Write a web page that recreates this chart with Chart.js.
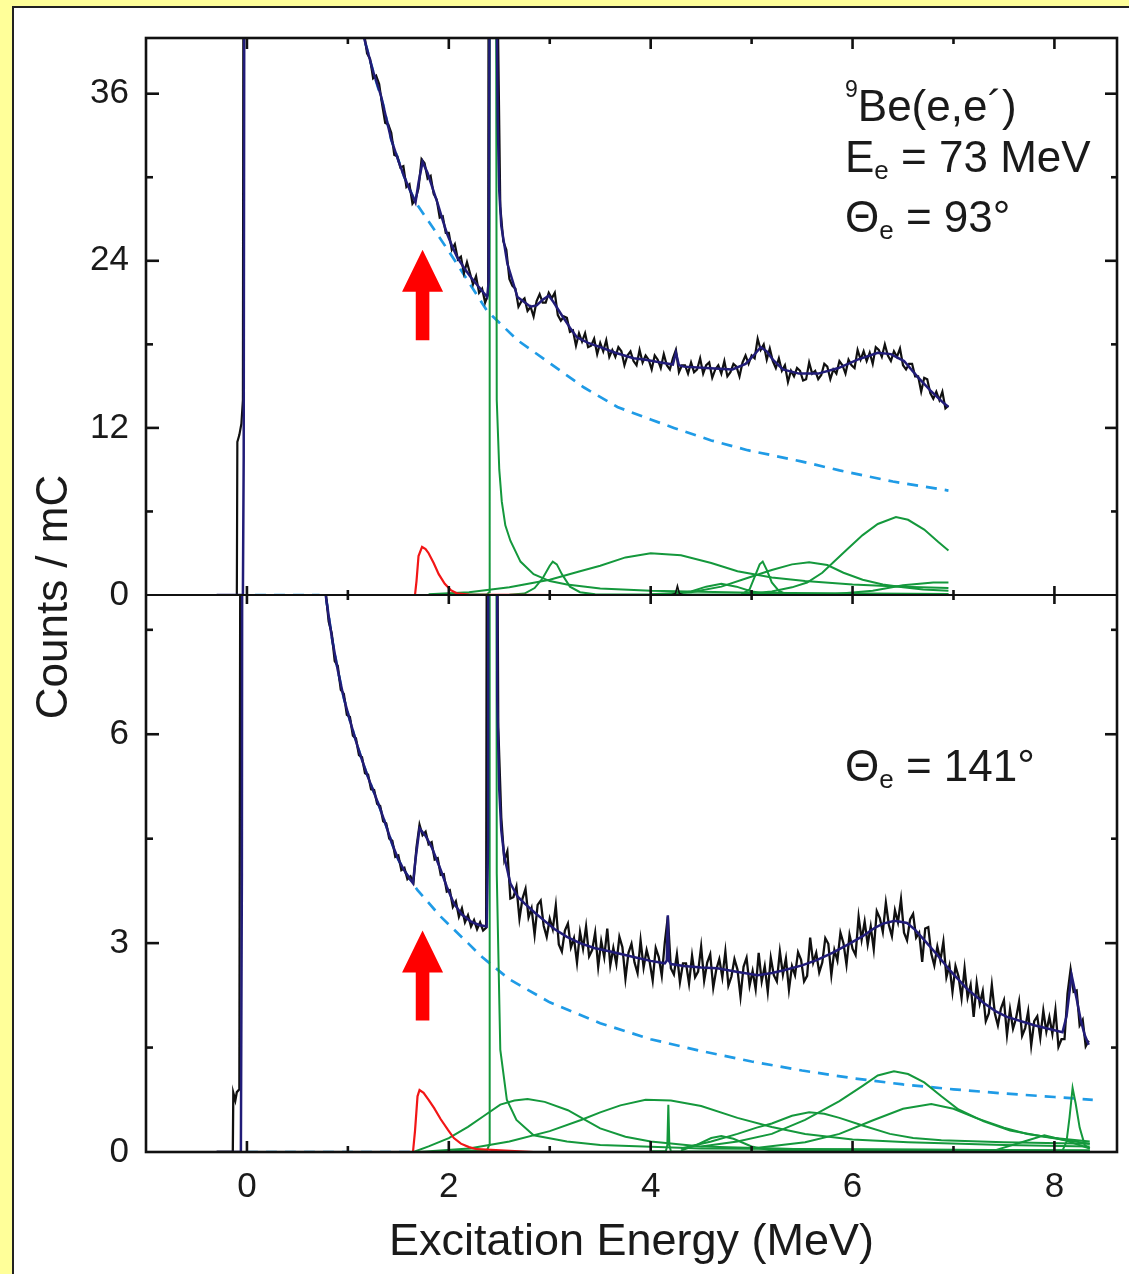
<!DOCTYPE html>
<html><head><meta charset="utf-8">
<script src="https://cdn.jsdelivr.net/npm/chart.js@4.4.1/dist/chart.umd.min.js"></script>
<style>
html,body{margin:0;padding:0;}
body{width:1129px;height:1274px;background:#ffff99;position:relative;overflow:hidden;font-family:"Liberation Sans",Arial,Helvetica,sans-serif;color:#1a1a1a;}
#sheet{position:absolute;left:12px;top:6px;width:1300px;height:1400px;background:#fff;border:2px solid #222;}
#c{position:absolute;left:0;top:0;}
.note{position:absolute;left:845px;font-size:44px;line-height:44px;height:44px;white-space:nowrap;}
.note sub{font-size:26px;vertical-align:-7px;line-height:0;}
.note sup{font-size:23px;vertical-align:24px;line-height:0;}
#ytitle{position:absolute;left:-148px;top:575px;width:400px;text-align:center;font-size:44px;line-height:44px;height:44px;transform:rotate(-90deg);white-space:nowrap;}
</style></head>
<body>
<div id="sheet"></div>
<canvas id="c" width="1129" height="1274"></canvas>
<div id="ytitle">Counts / mC</div>
<div class="note" style="top:84px"><sup>9</sup>Be(e,e´)</div>
<div class="note" style="top:135px">E<sub>e</sub> = 73 MeV</div>
<div class="note" style="top:195px">Θ<sub>e</sub> = 93°</div>
<div class="note" style="top:744px">Θ<sub>e</sub> = 141°</div>
<script>
// ---------------- axes / ticks ----------------
const xMin = -1, xMax = 8.62;
const topMin = 0, topMax = 40, bottomMin = 0, bottomMax = 8;
const xTickLabels = [0, 2, 4, 6, 8];
const xMajorTicks = [0, 2, 4, 6, 8];
const xMinorTicks = [1, 3, 5, 7];
const topTickLabels = [0, 12, 24, 36];
const topMajorTicks = [12, 24, 36];
const topMinorTicks = [6, 18, 30];
const bottomTickLabels = [0, 3, 6];
const bottomMajorTicks = [3, 6];
const bottomMinorTicks = [1.5, 4.5, 7.5];

// ---------------- upper spectrum (Theta = 93 deg) ----------------
const topElasticCounts = [[-0.30,0],[-0.10,0],[-0.095,11],[-0.075,11.5],[-0.055,12.3],[-0.04,14],[-0.028,90],[0.3,160],[0.8,60],[1.07,44.5]];
const topChannelStart = 1.10, topChannelWidth = 0.03;
const topCounts = [
42.8,40.8,40.4,38.9,38.5,37.1,37.3,36.7,35.2,33.9,
33.8,33.2,31.6,31.5,30.7,30.8,29.3,29.5,28.1,28.4,
29.2,31.3,31.0,29.9,30.1,28.8,28.4,27.1,27.2,26.0,
26.0,24.8,25.2,24.1,24.3,23.1,23.9,23.1,22.3,22.9,
21.7,22.0,21.0,21.6,200,320,45,27.9,25.4,24.8,
22.7,22.2,22.0,20.7,21.1,21.3,20.4,20.7,20.0,21.1,
21.6,21.0,21.0,21.7,21.3,21.7,20.1,19.7,20.0,19.9,
18.9,19.0,17.9,18.8,18.2,18.8,17.8,17.9,18.4,17.3,
18.1,17.5,18.3,17.1,17.6,17.1,17.8,17.5,16.5,17.2,
17.5,16.8,16.5,17.6,16.7,17.2,16.9,16.2,17.2,16.9,
16.3,17.3,16.5,16.2,17.0,17.6,16.0,16.5,16.5,15.9,
16.7,16.0,16.2,17.0,15.9,16.5,16.7,15.6,16.2,16.5,
15.9,16.8,15.7,16.0,16.6,16.4,15.7,16.7,17.2,16.6,
17.2,17.0,18.4,17.6,18.0,16.9,17.7,16.8,16.3,17.0,
16.1,16.5,15.3,16.1,15.7,16.3,16.1,15.4,15.5,16.7,
15.9,16.1,15.5,15.8,16.6,16.4,15.5,16.2,15.9,16.8,
16.5,15.9,16.9,16.5,16.3,17.6,16.9,17.5,16.8,17.4,
16.6,17.8,17.6,17.1,18.0,17.2,16.8,17.5,17.1,17.7,
16.5,16.2,16.6,16.6,15.7,15.7,14.6,15.6,15.5,14.5,
14.1,14.6,14.0,14.6,13.4,13.6];
const topFit = [[-0.30,0],[-0.04,0],[-0.032,10],[-0.02,80],[0.3,160],[0.8,60],[1.0,47],[1.16,40],[1.25,37.6],[1.33,35.8],[1.43,32.7],[1.50,31.2],[1.56,30.0],[1.62,29.0],[1.67,28.2],[1.70,29.6],[1.74,31.1],[1.79,30.3],[1.84,29.2],[1.89,28.1],[1.94,26.9],[1.98,26.0],[2.03,25.1],[2.08,24.3],[2.15,23.5],[2.22,22.8],[2.30,22.1],[2.38,21.4],[2.395,22.5],[2.405,45],[2.47,45],[2.485,34],[2.50,29],[2.52,26.5],[2.58,23.8],[2.68,21.4],[2.81,20.7],[2.87,20.8],[2.93,21.2],[2.99,21.5],[3.04,21.0],[3.11,20.2],[3.2,19.2],[3.27,18.5],[3.38,18.1],[3.50,17.8],[3.65,17.4],[3.83,17.0],[3.95,16.9],[4.1,16.7],[4.22,16.55],[4.25,17.4],[4.28,16.5],[4.33,16.4],[4.55,16.3],[4.81,16.2],[4.94,16.6],[5.02,17.2],[5.09,17.8],[5.15,17.5],[5.21,16.9],[5.31,16.2],[5.47,15.9],[5.66,15.9],[5.86,16.3],[6.05,16.9],[6.25,17.4],[6.38,17.3],[6.51,16.8],[6.64,15.7],[6.77,14.7],[6.90,13.8],[6.95,13.5]];
const topBackground = [[0.08,0],[0.72,0],[0.75,null],[1.05,45],[1.16,40],[1.25,37.6],[1.35,35.2],[1.43,32.7],[1.56,30.0],[1.67,28.2],[1.86,26.2],[2.08,23.8],[2.38,20.4],[2.68,18.3],[3.01,16.6],[3.34,14.9],[3.67,13.5],[4.0,12.6],[4.23,12.0],[4.6,11.1],[4.96,10.4],[5.49,9.6],[5.87,8.95],[6.4,8.15],[6.95,7.5]];
const topRed = [[1.60,0],[1.665,0],[1.68,1.0],[1.70,2.8],[1.735,3.45],[1.77,3.3],[1.80,3.0],[1.85,2.3],[1.90,1.5],[1.96,0.8],[2.02,0.35],[2.08,0.12],[2.2,0.03],[3.1,0]];
const topSmallBlack = [[4.2,0],[4.245,0.1],[4.265,0.65],[4.285,0.1],[4.33,0]];
const topGreen = [
 [[2.0,0.02],[2.38,0.05],[2.40,0.2],[2.405,60],[2.44,400],[2.465,60],[2.475,14],[2.50,9.0],[2.525,6.7],[2.56,5.0],[2.61,3.9],[2.71,2.4],[2.84,1.5],[3.0,1.0],[3.17,0.75],[3.5,0.47],[4.0,0.3],[5.0,0.17],[6.95,0.08]],
 [[2.6,0.02],[2.75,0.1],[2.85,0.5],[2.93,1.2],[3.0,2.1],[3.03,2.4],[3.07,2.2],[3.12,1.5],[3.2,0.6],[3.3,0.2],[3.45,0.05],[6.95,0.02]],
 [[1.8,0.05],[2.2,0.2],[2.6,0.55],[3.0,1.1],[3.3,1.7],[3.5,2.1],[3.75,2.7],[4.0,3.0],[4.3,2.85],[4.6,2.3],[4.86,1.7],[5.2,1.25],[5.53,1.0],[6.0,0.75],[6.5,0.6],[6.95,0.5]],
 [[4.2,0.05],[4.4,0.25],[4.55,0.6],[4.7,0.8],[4.85,0.6],[5.0,0.25],[5.2,0.05],[6.95,0.02]],
 [[4.9,0.05],[4.98,0.4],[5.03,1.3],[5.08,2.2],[5.11,2.4],[5.15,1.8],[5.2,0.9],[5.27,0.3],[5.35,0.05],[6.95,0.02]],
 [[4.0,0.05],[4.4,0.2],[4.7,0.6],[4.95,1.2],[5.2,1.8],[5.4,2.2],[5.57,2.35],[5.75,2.15],[5.91,1.6],[6.1,1.1],[6.3,0.75],[6.5,0.55],[6.7,0.4],[6.95,0.3]],
 [[4.9,0.05],[5.2,0.25],[5.4,0.55],[5.55,0.9],[5.7,1.6],[5.81,2.35],[5.95,3.3],[6.1,4.3],[6.25,5.1],[6.43,5.6],[6.55,5.4],[6.71,4.7],[6.85,3.8],[6.95,3.2]],
 [[5.8,0.05],[6.2,0.3],[6.5,0.7],[6.8,0.9],[6.95,0.9]]
];

// ---------------- lower spectrum (Theta = 141 deg) ----------------
const bottomElasticCounts = [[-0.30,0],[-0.14,0],[-0.135,0.85],[-0.115,0.74],[-0.10,0.86],[-0.075,0.9],[-0.055,18],[0.3,45],[0.6,11],[0.72,8.8]];
const bottomChannelStart = 0.78, bottomChannelWidth = 0.03;
const bottomCounts = [
8.05,7.62,7.45,7.05,6.98,6.64,6.58,6.28,6.25,5.98,
5.94,5.70,5.67,5.44,5.42,5.21,5.20,5.00,4.97,4.75,
4.72,4.50,4.47,4.24,4.26,4.05,4.08,3.92,3.96,3.88,
4.38,4.70,4.55,4.60,4.42,4.45,4.20,4.22,3.98,3.99,
3.74,3.76,3.52,3.60,3.38,3.50,3.30,3.40,3.24,3.33,
3.20,3.30,3.18,3.22,30,60,15,6.1,4.80,4.19,
4.32,3.64,3.66,3.81,3.35,3.64,3.78,3.37,3.50,3.12,
3.55,3.61,3.25,3.09,3.35,3.20,3.54,2.98,2.88,3.18,
3.28,2.94,3.07,2.72,3.16,2.92,3.24,2.81,2.90,3.15,
2.66,3.03,2.80,3.21,2.68,2.93,2.70,3.09,2.94,2.49,
2.86,2.99,2.72,2.57,3.04,2.65,2.90,2.73,2.46,2.93,
2.80,2.53,3.01,3.38,2.64,2.55,2.84,2.44,2.71,2.71,
2.42,2.82,2.51,2.59,2.95,2.46,2.72,2.84,2.36,2.62,
2.77,2.51,2.88,2.39,2.52,2.77,2.62,2.23,2.66,2.79,
2.39,2.60,2.34,2.86,2.45,2.67,2.30,2.79,2.54,2.45,
2.88,2.55,2.78,2.33,2.67,2.54,2.87,2.76,2.45,2.53,
3.08,2.72,2.86,2.58,2.72,3.07,2.99,2.54,2.90,2.75,
3.15,3.00,2.69,3.12,2.92,2.83,3.38,3.05,3.31,2.98,
3.24,2.91,3.46,3.36,3.16,3.58,3.26,3.10,3.47,3.30,
3.63,3.15,3.04,3.34,3.42,3.08,3.15,2.73,3.21,3.23,
2.85,2.68,2.95,2.75,3.02,2.51,2.68,2.30,2.67,2.52,
2.21,2.64,2.22,2.40,1.94,2.43,2.13,2.31,1.88,1.99,
2.40,1.99,1.82,2.06,2.18,1.68,2.05,1.77,1.92,2.16,
1.67,1.78,2.02,1.53,1.88,1.95,1.64,2.03,1.73,1.94,
1.70,2.04,1.51,1.62,1.62,2.28,2.62,2.30,2.32,1.82,
1.90,1.52,1.60];
const bottomFit = [[-0.30,0],[-0.06,0],[-0.05,4],[-0.04,20],[0.3,45],[0.6,11],[0.72,8.75],[0.78,8.0],[0.84,7.4],[0.90,6.92],[0.96,6.52],[1.02,6.2],[1.08,5.9],[1.14,5.63],[1.20,5.38],[1.26,5.16],[1.32,4.93],[1.38,4.68],[1.44,4.42],[1.50,4.2],[1.56,4.04],[1.62,3.91],[1.645,3.86],[1.67,4.2],[1.71,4.65],[1.77,4.54],[1.83,4.38],[1.92,4.05],[1.98,3.81],[2.05,3.57],[2.13,3.41],[2.22,3.31],[2.30,3.26],[2.375,3.24],[2.39,4.5],[2.40,40],[2.46,40],[2.48,6.5],[2.50,5.2],[2.52,4.62],[2.55,4.24],[2.61,3.86],[2.68,3.67],[2.75,3.57],[2.85,3.44],[2.94,3.33],[3.05,3.2],[3.17,3.09],[3.3,3.0],[3.44,2.93],[3.6,2.88],[3.83,2.8],[4.0,2.745],[4.14,2.71],[4.16,2.75],[4.17,3.4],[4.18,2.75],[4.2,2.7],[4.33,2.67],[4.5,2.65],[4.66,2.64],[4.85,2.59],[5.06,2.54],[5.2,2.57],[5.32,2.61],[5.5,2.68],[5.65,2.76],[5.8,2.86],[5.98,3.0],[6.1,3.1],[6.21,3.21],[6.3,3.28],[6.42,3.32],[6.54,3.29],[6.62,3.19],[6.72,3.03],[6.84,2.83],[6.97,2.6],[7.13,2.35],[7.3,2.14],[7.42,2.02],[7.53,1.94],[7.8,1.82],[8.08,1.72],[8.12,1.95],[8.17,2.54],[8.22,2.2],[8.26,1.9],[8.30,1.68],[8.34,1.54]];
const bottomBackground = [[0.0,0],[1.62,0],[1.63,null],[0.72,8.75],[0.78,8.0],[0.84,7.4],[0.90,6.92],[0.96,6.52],[1.02,6.2],[1.08,5.9],[1.14,5.63],[1.20,5.38],[1.26,5.16],[1.32,4.93],[1.38,4.68],[1.44,4.42],[1.50,4.2],[1.56,4.04],[1.62,3.91],[1.645,3.86],[1.69,3.76],[1.92,3.38],[2.19,3.0],[2.33,2.8],[2.6,2.48],[3.0,2.15],[3.5,1.85],[4.0,1.62],[4.5,1.45],[5.0,1.3],[5.5,1.17],[6.0,1.06],[6.5,0.97],[7.0,0.9],[7.5,0.84],[8.0,0.79],[8.38,0.75]];
const bottomRed = [[1.60,0],[1.645,0],[1.665,0.3],[1.69,0.8],[1.71,0.89],[1.75,0.85],[1.80,0.75],[1.855,0.63],[1.92,0.47],[1.99,0.32],[2.05,0.2],[2.12,0.12],[2.2,0.07],[2.28,0.04],[2.84,0]];
const bottomGreen = [
 [[2.0,0.01],[2.38,0.03],[2.40,0.1],[2.405,20],[2.44,100],[2.465,20],[2.475,4],[2.51,1.47],[2.575,0.75],[2.67,0.46],[2.84,0.24],[3.17,0.15],[3.5,0.1],[4.5,0.05],[8.35,0.02]],
 [[1.65,0.0],[1.8,0.08],[2.0,0.2],[2.19,0.36],[2.35,0.52],[2.51,0.68],[2.65,0.74],[2.78,0.76],[2.95,0.72],[3.18,0.6],[3.35,0.46],[3.5,0.34],[3.75,0.22],[4.0,0.15],[4.5,0.08],[5.5,0.04],[8.35,0.02]],
 [[1.7,0.0],[2.2,0.05],[2.6,0.15],[3.0,0.3],[3.31,0.46],[3.5,0.57],[3.7,0.67],[3.95,0.75],[4.2,0.74],[4.5,0.66],[4.86,0.49],[5.2,0.36],[5.53,0.26],[6.0,0.18],[6.55,0.14],[7.5,0.1],[8.35,0.08]],
 [[4.0,0.01],[4.15,0.01],[4.165,0.1],[4.175,0.68],[4.185,0.1],[4.2,0.01],[8.35,0.0]],
 [[4.3,0.02],[4.45,0.1],[4.6,0.2],[4.7,0.23],[4.82,0.19],[5.0,0.08],[5.2,0.02],[8.35,0.01]],
 [[4.3,0.05],[4.6,0.15],[4.86,0.26],[5.05,0.35],[5.2,0.41],[5.4,0.52],[5.57,0.57],[5.72,0.55],[5.87,0.49],[6.1,0.38],[6.37,0.26],[6.6,0.2],[6.88,0.17],[7.5,0.14],[8.35,0.12]],
 [[4.5,0.08],[4.86,0.15],[5.2,0.26],[5.53,0.46],[5.87,0.73],[6.1,0.95],[6.25,1.1],[6.41,1.16],[6.55,1.12],[6.71,1.0],[6.88,0.8],[7.05,0.61],[7.3,0.44],[7.56,0.31],[7.9,0.22],[8.35,0.12]],
 [[5.0,0.05],[5.53,0.14],[5.87,0.26],[6.21,0.46],[6.5,0.62],[6.78,0.69],[7.0,0.62],[7.22,0.49],[7.5,0.35],[7.73,0.26],[8.0,0.2],[8.35,0.15]],
 [[7.4,0.02],[7.7,0.15],[7.9,0.24],[8.1,0.17],[8.35,0.05]],
 [[8.0,0.01],[8.08,0.02],[8.12,0.15],[8.15,0.5],[8.18,0.92],[8.21,0.7],[8.25,0.35],[8.3,0.1],[8.35,0.05]]
];

// arrows marking the 1.68 MeV state (data coordinates of tip / tail)
const arrowMarks = [
  {axis:'yt', x:1.74, tip:24.8, tail:18.3},
  {axis:'yb', x:1.74, tip:3.18, tail:1.89}
];

// ---------------- build ----------------
const FONT = "'Liberation Sans', Arial, Helvetica, sans-serif";
const COL = {data:'#101010', fit:'#211c78', bg:'#1f9be6', green:'#14983c', red:'#f21616'};
const pts = pairs => pairs.map(p => ({x:p[0], y:p[1]}));
const channels = (start, width, counts) => counts.map((c, i) => ({x: Math.round((start + i*width)*1000)/1000, y: c}));
function ds(data, axis, color, width, extra){
  return Object.assign({data, yAxisID:axis, xAxisID:'x', borderColor:color, backgroundColor:color, borderWidth:width,
    pointRadius:0, pointHoverRadius:0, fill:false, tension:0, showLine:true, spanGaps:false}, extra || {});
}
const layers = []; // bottom -> top
layers.push(ds(pts(topBackground), 'yt', COL.bg, 2.7, {borderDash:[11,8]}));
layers.push(ds(pts(bottomBackground), 'yb', COL.bg, 2.7, {borderDash:[11,8]}));
layers.push(ds(pts(topElasticCounts).concat(channels(topChannelStart, topChannelWidth, topCounts)), 'yt', COL.data, 2.2));
layers.push(ds(pts(bottomElasticCounts).concat(channels(bottomChannelStart, bottomChannelWidth, bottomCounts)), 'yb', COL.data, 2.3));
topGreen.forEach(g => layers.push(ds(pts(g), 'yt', COL.green, 2)));
bottomGreen.forEach(g => layers.push(ds(pts(g), 'yb', COL.green, 2)));
layers.push(ds(pts(topSmallBlack), 'yt', COL.data, 1.6));
layers.push(ds(pts(topRed), 'yt', COL.red, 2.2));
layers.push(ds(pts(bottomRed), 'yb', COL.red, 2.2));
layers.push(ds(pts(topFit), 'yt', COL.fit, 2.5));
layers.push(ds(pts(bottomFit), 'yb', COL.fit, 2.5));
layers.forEach((l, i) => { l.order = layers.length - i; });

const decor = {
  id: 'decor',
  afterDatasetsDraw(chart){
    const {ctx, chartArea:a, scales} = chart;
    const x = scales.x, yt = scales.yt, yb = scales.yb;
    ctx.save();
    // arrows
    ctx.fillStyle = '#ff0000';
    for (const m of arrowMarks) {
      const ys = scales[m.axis];
      const cx = x.getPixelForValue(m.x), tip = ys.getPixelForValue(m.tip), tail = ys.getPixelForValue(m.tail);
      const neck = tip + 42, hw = 20.5, sw = 6.8;
      ctx.beginPath();
      ctx.moveTo(cx, tip); ctx.lineTo(cx + hw, neck); ctx.lineTo(cx + sw, neck); ctx.lineTo(cx + sw, tail);
      ctx.lineTo(cx - sw, tail); ctx.lineTo(cx - sw, neck); ctx.lineTo(cx - hw, neck); ctx.closePath(); ctx.fill();
    }
    const seg = (x1, y1, x2, y2) => { ctx.beginPath(); ctx.moveTo(x1, y1); ctx.lineTo(x2, y2); ctx.stroke(); };
    ctx.strokeStyle = '#111';
    ctx.lineWidth = 2.6;
    ctx.strokeRect(a.left, a.top, a.right - a.left, a.bottom - a.top);
    const mid = yt.bottom;
    ctx.lineWidth = 2;
    seg(a.left, mid, a.right, mid);
    ctx.lineWidth = 2.6;
    for (const v of xMajorTicks) { const p = x.getPixelForValue(v); seg(p, a.bottom, p, a.bottom - 11); seg(p, a.top, p, a.top + 11); seg(p, mid - 9, p, mid + 9); }
    for (const v of xMinorTicks) { const p = x.getPixelForValue(v); seg(p, a.bottom, p, a.bottom - 6); seg(p, a.top, p, a.top + 6); seg(p, mid - 5, p, mid + 5); }
    const yTicks = (scale, major, minor) => {
      for (const v of major) { const p = scale.getPixelForValue(v); seg(a.left, p, a.left + 13, p); seg(a.right, p, a.right - 12, p); }
      for (const v of minor) { const p = scale.getPixelForValue(v); seg(a.left, p, a.left + 7, p); seg(a.right, p, a.right - 6, p); }
    };
    yTicks(yt, topMajorTicks, topMinorTicks);
    yTicks(yb, bottomMajorTicks, bottomMinorTicks);
    ctx.restore();
  }
};

const tickFont = {family: FONT, size: 35};
const yScale = (min, max, step, labels) => ({
  type:'linear', position:'left', stack:'panels', stackWeight:1, min, max,
  grid:{display:false, drawTicks:false}, border:{display:false},
  ticks:{stepSize:step, includeBounds:false, autoSkip:false, padding:17, color:'#1a1a1a', font:tickFont,
         callback: v => labels.includes(v) ? String(v) : ''},
  afterFit(s){ s.width = 146; }
});

new Chart(document.getElementById('c'), {
  type: 'line',
  data: { datasets: layers },
  options: {
    responsive: false, animation: false, devicePixelRatio: 1, events: [],
    layout: { padding: {left: 0, top: 38, right: 12, bottom: 0} },
    plugins: { legend: {display:false}, tooltip: {enabled:false} },
    scales: {
      x: { type:'linear', position:'bottom', min:xMin, max:xMax,
           grid:{display:false, drawTicks:false}, border:{display:false},
           ticks:{stepSize:1, includeBounds:false, autoSkip:false, maxRotation:0, padding:14, color:'#1a1a1a', font:tickFont,
                  callback: v => xTickLabels.includes(v) ? String(v) : ''},
           title:{display:true, text:'Excitation Energy (MeV)', color:'#1a1a1a', font:{family:FONT, size:45}, padding:{top:0, bottom:4}},
           afterFit(s){ s.height = 122; } },
      yb: yScale(bottomMin, bottomMax, 1.5, bottomTickLabels),
      yt: yScale(topMin, topMax, 6, topTickLabels)
    }
  },
  plugins: [decor]
});
</script>
</body></html>
